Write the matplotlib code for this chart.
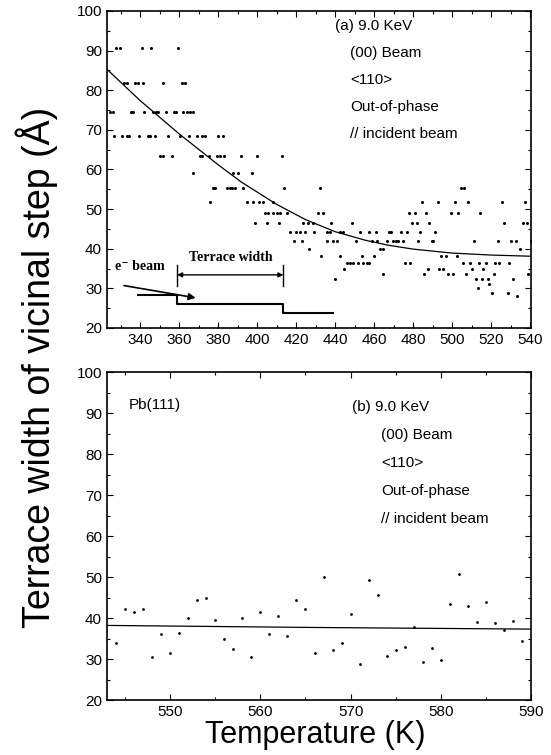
import matplotlib
matplotlib.use("Agg")
import matplotlib.pyplot as plt
from matplotlib.ticker import MultipleLocator

plt.rcParams['font.family'] = ['Liberation Sans', 'DejaVu Sans']

# ---- panel (a): terrace width vs temperature, 320-540 K ----
# points, grouped by the (quantised) width level
levels_a = {
    90.6: [327.5, 329.5, 341, 345.6, 359.3],
    81.8: [331.6, 333.3, 337.4, 339.1, 341.7, 351.6, 361.4, 363.1],
    74.6: [324.6, 326.3, 335.4, 336.6, 342.2, 346.8, 348.2, 349.4, 353.3, 357.4,
           358.5, 362.2, 363.9, 365.6, 367.3],
    68.5: [326.7, 330.9, 333.2, 334.5, 339.6, 343.9, 345.1, 347.7, 354.5, 360.5,
           365.3, 369.1, 371.6, 373.3, 380.2, 382.4],
    63.4: [350.3, 352, 356.3, 370.8, 371.6, 375.4, 379.3, 381, 383.2, 391.8, 400.2, 413],
    59.2: [367.3, 387.8, 390.1, 397.3],
    55.3: [377.3, 378.5, 384.5, 386.2, 387, 388.7, 393, 414, 432, 504.6, 506.3],
    51.9: [375.9, 394.7, 398.1, 401.2, 403.2, 408.4, 484.6, 492.5, 501.2, 508.3,
           525.5, 537.3],
    49.1: [404.1, 405.8, 408.4, 410.1, 411.8, 415.2, 431.4, 434, 477.9, 481, 486.7,
           499.6, 503.2, 514.4],
    46.5: [399, 405, 411.1, 423.7, 426.3, 428.8, 437.9, 448.9, 479.5, 481.9, 488.3,
           526.5, 536.2, 538.3],
    44.1: [417.1, 420, 422.1, 424.6, 429.3, 436, 437.3, 442.5, 444.2, 452.8, 457.5,
           460.7, 467.6, 468.8, 473.8, 476.6, 483.6, 491.3],
    42.0: [419, 423.2, 435.7, 438.7, 440.9, 450.8, 458.8, 461.7, 466.8, 469.9, 471,
           472.4, 474.7, 482.4, 489.6, 490.4, 511.4, 523.4, 530.3, 532.5, 540.2],
    40.0: [426.8, 463.2, 464.8, 534.9],
    38.1: [432.8, 442.6, 453.7, 459.7, 494.2, 496.6, 502.4],
    36.5: [446, 447.6, 449.4, 451.9, 454.5, 456.2, 457.5, 475.9, 478.5, 505.4, 509.2,
           514, 517.3, 522, 524.2, 529.2],
    35.0: [444.8, 487.7, 493.5, 495.5, 510.4, 515.7],
    33.5: [464.6, 485.6, 497.7, 500.5, 507.3, 521.3, 539],
    32.3: [440, 512.3, 515.2, 518.3, 531.2],
    31.0: [519.1],
    30.0: [513.2],
    28.8: [520.2, 528.4],
    28.0: [533.3],
}
temp_a = [t for lv, ts in levels_a.items() for t in ts]
width_a = [lv for lv, ts in levels_a.items() for t in ts]

# fitted curve, read at a handful of points
fit_a_t = [323, 340, 360, 380, 392, 410, 425, 440, 455, 467, 480, 500, 520, 540.5]
fit_a_w = [85.3, 77.4, 69.0, 61.2, 56.8, 51.2, 47.3, 44.3, 42.2, 40.9, 39.9, 38.9, 38.4, 38.1]

# schematic of the stepped surface (panel a, data units)
step_x = [339, 359, 359, 413.5, 413.5, 439]
step_y = [28.3, 28.3, 26.0, 26.0, 23.9, 23.9]
beam_start = (331.8, 30.7)
beam_end = (368.5, 27.6)
bracket_x = [359, 413.5]
bracket_y = 33.4

# ---- panel (b): 543-590 K ----
temp_b = [544, 545, 546, 547, 548, 549, 550, 551, 552, 553, 554, 555, 556, 557, 558,
          559, 560, 561, 562, 563, 564, 565, 566, 567, 568, 569, 570, 571, 572, 573,
          574, 575, 576, 577, 578, 579, 580, 581, 582, 583, 584, 585, 586, 587, 588, 589]
width_b = [33.9, 42.2, 41.5, 42.3, 30.6, 36.0, 31.5, 36.3, 40.0, 44.3, 44.9, 39.5,
           34.9, 32.5, 40.1, 30.4, 41.5, 36.2, 40.6, 35.7, 44.5, 42.3, 31.4, 50.0,
           32.2, 34.0, 41.0, 28.8, 49.3, 45.7, 30.8, 32.3, 33.0, 37.8, 29.3, 32.8,
           29.7, 43.4, 50.7, 42.9, 39.0, 43.9, 38.9, 37.1, 39.2, 34.3]
fit_b_t = [543, 566, 590]
fit_b_w = [38.2, 37.7, 37.3]

label_lines = ["9.0 KeV", "(00) Beam", "<110>", "Out-of-phase", "// incident beam"]

fig = plt.figure(figsize=(5.51, 7.55), dpi=100)
ax1 = fig.add_axes([0.194, 0.5656, 0.770, 0.4199])
ax2 = fig.add_axes([0.194, 0.0728, 0.770, 0.4344])

for ax in (ax1, ax2):
    ax.tick_params(which='both', direction='in', top=True, right=True,
                   labelsize=11, width=0.8)
    ax.tick_params(which='major', length=4)
    ax.tick_params(which='minor', length=2)
    ax.set_ylim(20, 100)
    ax.yaxis.set_major_locator(MultipleLocator(10))
    ax.yaxis.set_minor_locator(MultipleLocator(5))
    for s in ax.spines.values():
        s.set_linewidth(1.2)

# panel (a)
ax1.plot(temp_a, width_a, 'o', color='black', ms=2.2, mew=0)
ax1.plot(fit_a_t, fit_a_w, '-', color='black', lw=0.9)
ax1.set_xlim(323, 540.5)
ax1.xaxis.set_major_locator(MultipleLocator(20))
ax1.xaxis.set_minor_locator(MultipleLocator(10))

ax1.plot(step_x, step_y, '-', color='black', lw=1.5)
ax1.annotate('', xy=beam_end, xytext=beam_start,
             arrowprops=dict(arrowstyle='-|>', lw=1.2, color='black',
                             mutation_scale=10, shrinkA=0, shrinkB=0))
ax1.annotate('', xy=(bracket_x[1], bracket_y), xytext=(bracket_x[0], bracket_y),
             arrowprops=dict(arrowstyle='<|-|>', lw=1.0, color='black',
                             mutation_scale=7, shrinkA=0, shrinkB=0))
for bx in bracket_x:
    ax1.plot([bx, bx], [30.7, 35.9], '-', color='black', lw=1.0)
ax1.text(386.5, 37.9, 'Terrace width', ha='center', va='center', fontsize=10,
         fontweight='bold', family=['Liberation Serif', 'DejaVu Serif'])
ax1.text(327, 35.5, 'e\u207b beam', ha='left', va='center', fontsize=10,
         fontweight='bold', family=['Liberation Serif', 'DejaVu Serif'])

ax1.text(440, 96.3, '(a) ' + label_lines[0], ha='left', va='center', fontsize=11)
for i, line in enumerate(label_lines[1:]):
    ax1.text(447.7, 89.4 - 6.8 * i, line, ha='left', va='center', fontsize=11)

# panel (b)
ax2.plot(temp_b, width_b, 'o', color='black', ms=2.0, mew=0)
ax2.plot(fit_b_t, fit_b_w, '-', color='black', lw=0.9)
ax2.set_xlim(543, 590)
ax2.xaxis.set_major_locator(MultipleLocator(10))
ax2.xaxis.set_minor_locator(MultipleLocator(5))

ax2.text(545.4, 92, 'Pb(111)', ha='left', va='center', fontsize=11)
ax2.text(570.1, 91.6, '(b) ' + label_lines[0], ha='left', va='center', fontsize=11)
for i, line in enumerate(label_lines[1:]):
    ax2.text(573.4, 84.6 - 6.85 * i, line, ha='left', va='center', fontsize=11)

fig.text(0.066, 0.514, 'Terrace width of vicinal step (Å)', rotation=90,
         ha='center', va='center', fontsize=27)
fig.text(0.572, 0.027, 'Temperature (K)', ha='center', va='center', fontsize=22)

fig.savefig('out.png', dpi=100)
